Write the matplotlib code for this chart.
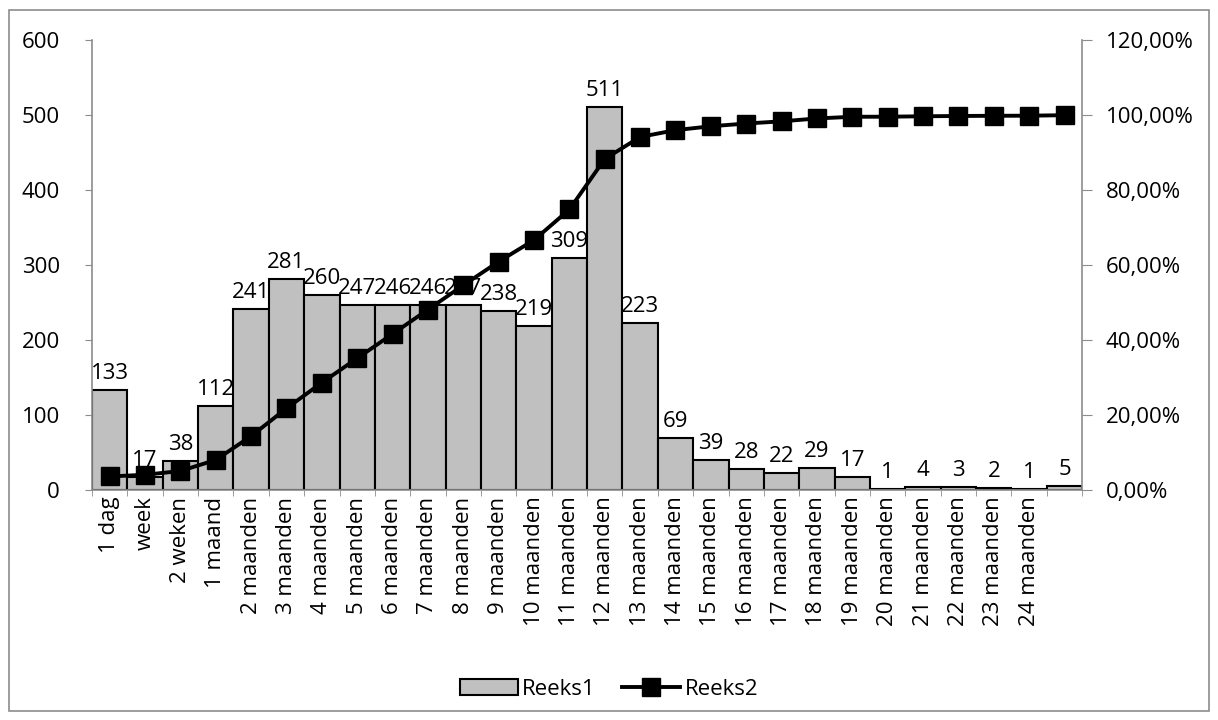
import matplotlib.pyplot as plt
import matplotlib.ticker as mticker
from matplotlib.patches import Rectangle

plt.rcParams['font.family'] = ['Open Sans', 'DejaVu Sans']

categories = ['1 dag', 'week', '2 weken', '1 maand'] + \
    [f'{m} maanden' for m in range(2, 25)] + ['']
reeks1 = [133, 17, 38, 112, 241, 281, 260, 247, 246, 246, 247, 238, 219, 309,
          511, 223, 69, 39, 28, 22, 29, 17, 1, 4, 3, 2, 1, 5]
reeks2 = [3.51, 3.96, 4.96, 7.92, 14.28, 21.70, 28.56, 35.08, 41.58, 48.07,
          54.59, 60.88, 66.66, 74.82, 88.31, 94.19, 96.01, 97.04, 97.78,
          98.36, 99.13, 99.58, 99.60, 99.71, 99.79, 99.84, 99.87, 100.00]

FS = 16

fig = plt.figure(figsize=(12.18, 7.2), dpi=100)
fig.patches.append(Rectangle((0.007, 0.012), 0.986, 0.974, transform=fig.transFigure,
                             fill=False, edgecolor='#8c8c8c', linewidth=1.2))
ax = fig.add_axes([0.0755, 0.32, 0.813, 0.624])
x = list(range(len(reeks1)))

ax.bar(x, reeks1, width=1.0, color='#c0c0c0', edgecolor='black', linewidth=1.5,
       label='Reeks1', zorder=2)
for xi, v in zip(x, reeks1):
    ax.text(xi, v + 8, str(v), ha='center', va='bottom', fontsize=FS, zorder=3)

ax.set_xlim(-0.5, len(reeks1) - 0.5)
ax.set_ylim(0, 600)
ax.set_yticks(range(0, 601, 100))
ax.set_xticks(x)
ax.set_xticklabels(categories, rotation=90, fontsize=FS)
ax.set_xticks([i - 0.5 for i in range(len(reeks1) + 1)], minor=True)
ax.tick_params(axis='x', which='major', length=0, pad=5)
ax.tick_params(axis='x', which='minor', length=4, color='#8c8c8c', direction='out')
ax.tick_params(axis='y', length=5, color='#8c8c8c', labelsize=FS, pad=18)
for side in ('top', 'right'):
    ax.spines[side].set_visible(False)
for side in ('left', 'bottom'):
    ax.spines[side].set_color('#8c8c8c')
    ax.spines[side].set_linewidth(1.2)

# cumulative share on the secondary axis, drawn over the bars
ax2 = ax.twinx()
ax2.plot(x, reeks2, color='black', linewidth=2.8, marker='s', markersize=12.5,
         label='Reeks2', zorder=4)
ax2.set_ylim(0, 120)
ax2.set_yticks(range(0, 121, 20))
ax2.yaxis.set_major_formatter(mticker.FuncFormatter(lambda v, _: f'{v:.2f}'.replace('.', ',') + '%'))
ax2.tick_params(axis='y', length=7, color='#8c8c8c', labelsize=FS, pad=10)
for side in ('top', 'left', 'bottom'):
    ax2.spines[side].set_visible(False)
ax2.spines['right'].set_color('#8c8c8c')
ax2.spines['right'].set_linewidth(1.2)

h1, l1 = ax.get_legend_handles_labels()
h2, l2 = ax2.get_legend_handles_labels()
fig.legend(h1 + h2, l1 + l2, loc='center', bbox_to_anchor=(0.5, 0.043), ncol=2,
           frameon=False, fontsize=FS, handlelength=2.6, columnspacing=1.2,
           handletextpad=0.2)

fig.savefig('out.png', dpi=100)
